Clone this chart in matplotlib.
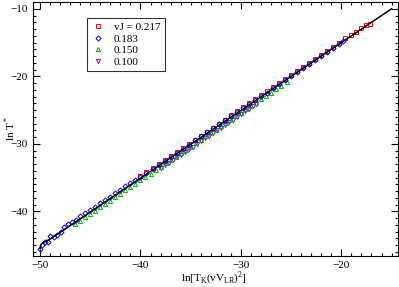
import matplotlib
matplotlib.use("Agg")
import matplotlib.pyplot as plt
from matplotlib.ticker import MultipleLocator

plt.rcParams['font.family'] = ['Liberation Serif', 'DejaVu Serif']
plt.rcParams['mathtext.fontset'] = 'custom'
plt.rcParams['mathtext.rm'] = 'Liberation Serif'

# fit line
line_x = [-50.0, -49.9, -49.7, -49.4, -49.0, -15.0]
line_y = [-45.5, -44.9, -44.6, -44.4, -44.1, -10.0]

# vJ = 0.217 (red squares)
red_x = [-40.0, -39.4, -38.8, -38.2, -37.6, -37.0, -36.4, -35.8, -35.2, -34.6,
         -34.0, -33.4, -32.8, -32.2, -31.6, -31.0, -30.4, -29.8, -29.2, -28.6,
         -28.0, -27.4, -26.8, -26.2, -25.6, -25.0, -24.4, -23.8, -23.2, -22.6,
         -22.0, -21.4, -20.8, -20.2, -19.6, -19.0, -18.5, -18.0, -17.5, -17.1]
red_y = [-34.8, -34.2, -33.6, -33.0, -32.4, -31.8, -31.2, -30.6, -30.0, -29.4,
         -28.8, -28.2, -27.6, -27.0, -26.4, -25.8, -25.2, -24.6, -24.0, -23.4,
         -22.8, -22.2, -21.6, -21.0, -20.4, -19.8, -19.2, -18.6, -18.0, -17.4,
         -16.8, -16.2, -15.6, -15.0, -14.4, -13.9, -13.4, -12.9, -12.4, -12.3]

# 0.183 (blue diamonds)
blue_x = [-50.0, -49.8, -49.5, -49.2, -49.0, -48.6, -48.3, -47.9, -47.6, -47.2,
          -46.8, -46.4, -46.0, -45.5, -45.0, -44.5, -44.0, -43.5, -43.0, -42.5,
          -42.0, -41.5, -41.0, -40.5, -40.0, -39.4, -38.8, -38.2, -37.6, -37.0,
          -36.4, -35.8, -35.2, -34.6, -34.0, -33.4, -32.8, -32.2, -31.6, -31.0,
          -30.4, -29.8, -29.2, -28.6, -28.0, -27.4, -26.8, -26.2, -25.6, -25.0,
          -24.4, -23.8, -23.2, -22.6, -22.0, -21.4, -20.8, -20.2, -19.8]
blue_y = [-45.6, -44.9, -44.6, -44.5, -43.6, -43.8, -43.5, -43.0, -42.3, -41.9,
          -41.6, -41.2, -40.7, -40.2, -39.8, -39.3, -38.8, -38.3, -37.8, -37.3,
          -36.8, -36.3, -35.8, -35.3, -34.9, -34.3, -33.7, -33.1, -32.5, -31.9,
          -31.3, -30.7, -30.1, -29.5, -28.9, -28.3, -27.7, -27.1, -26.5, -25.9,
          -25.3, -24.7, -24.1, -23.5, -22.9, -22.4, -21.8, -21.2, -20.6, -20.0,
          -19.4, -18.8, -18.2, -17.6, -17.0, -16.4, -15.8, -15.2, -14.8]

# 0.150 (green triangles)
green_x = [-46.5, -46.0, -45.5, -45.0, -44.5, -44.0, -43.5, -43.0, -42.5, -42.0,
           -41.5, -41.0, -40.5, -40.0, -39.5, -39.0, -38.5, -38.0, -37.5, -37.0,
           -36.5, -36.0, -35.5, -35.0, -34.5, -34.0, -33.5, -33.0, -32.5, -32.0,
           -31.5, -31.0, -30.5, -30.0, -29.5, -29.0, -28.5, -28.0, -27.5, -27.0,
           -26.5, -26.0, -25.4]
green_y = [-41.9, -41.4, -40.9, -40.4, -39.9, -39.4, -38.9, -38.4, -37.9, -37.4,
           -36.9, -36.4, -35.9, -35.4, -34.9, -34.4, -33.9, -33.4, -32.9, -32.4,
           -31.9, -31.4, -30.9, -30.4, -29.9, -29.4, -28.9, -28.4, -27.9, -27.4,
           -26.9, -26.4, -25.9, -25.4, -24.9, -24.4, -23.9, -23.4, -22.9, -22.4,
           -21.9, -21.4, -20.8]

# 0.100 (violet down-triangles)
violet_x = [-38.0, -37.6, -37.2, -36.8, -36.4, -36.0, -35.6, -35.2, -34.8, -34.4,
            -34.0, -33.6, -33.2, -32.8, -32.4, -32.0, -31.6, -31.2, -30.8, -30.4,
            -30.0, -29.6, -29.2, -28.8, -28.5]
violet_y = [-33.5, -33.2, -32.8, -32.4, -32.0, -31.6, -31.2, -30.8, -30.4, -30.0,
            -29.6, -29.2, -28.8, -28.4, -28.0, -27.6, -27.2, -26.8, -26.4, -26.0,
            -25.6, -25.2, -24.8, -24.4, -24.1]

labels = ["vJ = 0.217", "0.183", "0.150", "0.100"]

fig = plt.figure(figsize=(3.99, 2.87), dpi=100)
ax = fig.add_axes([33/399, 31/287, 364.6/399, 254/287])

ms = 3.0
ax.plot(violet_x, violet_y, 'v', ms=ms, mfc='none', mec='#9400d3', mew=0.7, label=labels[3])
ax.plot(green_x, green_y, '^', ms=ms, mfc='none', mec='#00b000', mew=0.7, label=labels[2])
ax.plot(red_x, red_y, 's', ms=ms, mfc='none', mec='#ff0000', mew=0.7, label=labels[0])
ax.plot(blue_x, blue_y, 'D', ms=2.6, mfc='none', mec='#0000ff', mew=0.7, label=labels[1])
ax.plot(line_x, line_y, '-', color='black', lw=1.1)

ax.set_xlim(-50.7, -14.4)
ax.set_ylim(-46.6, -9.0)
ax.xaxis.set_major_locator(MultipleLocator(10))
ax.xaxis.set_minor_locator(MultipleLocator(1))
ax.yaxis.set_major_locator(MultipleLocator(10))
ax.yaxis.set_minor_locator(MultipleLocator(1))
ax.tick_params(which='both', direction='in', top=True, right=True, labelsize=8, width=0.8)
ax.tick_params(which='major', length=5)
ax.tick_params(which='minor', length=2.5)
for s in ax.spines.values():
    s.set_linewidth(0.8)

ax.set_xlabel(r'ln[T$_{\rm K}$(vV$_{\rm LR}$)$^2$]', fontsize=8)
ax.xaxis.set_label_coords(0.496, -0.052)
ax.set_ylabel(r'ln T$^*$', fontsize=8)
ax.yaxis.label.set_va('center')
ax.yaxis.set_label_coords(-0.063, 0.504)

handles, _ = ax.get_legend_handles_labels()
order = [2, 3, 1, 0]
leg = ax.legend([handles[i] for i in order], labels, loc='upper left',
                bbox_to_anchor=(0.148, 0.937), fontsize=8,
                frameon=True, fancybox=False, edgecolor='black', borderpad=0.4,
                labelspacing=0.15, handlelength=1.2, handletextpad=0.8, borderaxespad=0)
leg.get_frame().set_linewidth(0.8)

fig.savefig('out.png', dpi=100)
